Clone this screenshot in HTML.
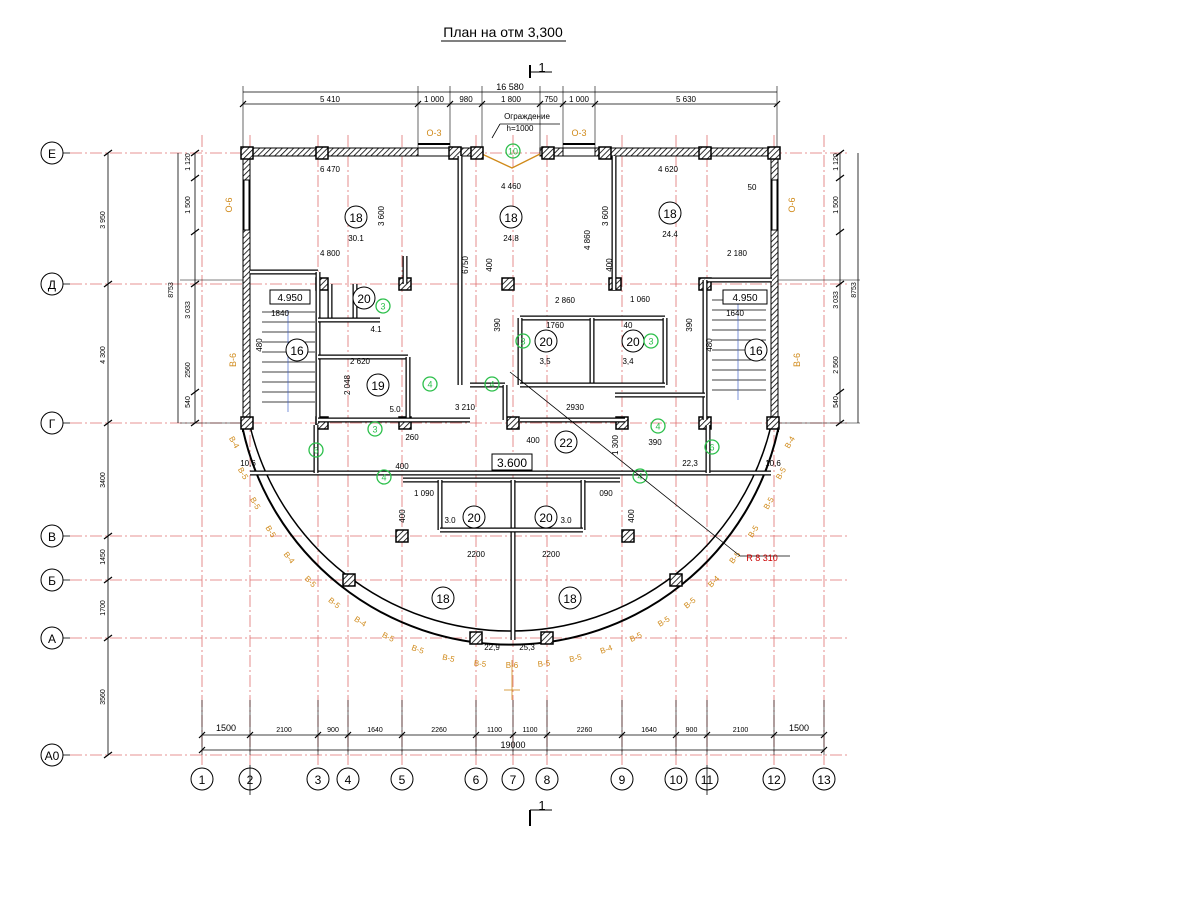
<!DOCTYPE html>
<html><head><meta charset="utf-8"><style>
html,body{margin:0;padding:0;background:#fff;}
svg{display:block;font-family:"Liberation Sans",sans-serif;}
</style></head><body>
<svg id="s" width="1200" height="900" viewBox="0 0 1200 900" xmlns="http://www.w3.org/2000/svg">
<defs>
<pattern id="h" width="4" height="4" patternUnits="userSpaceOnUse" patternTransform="rotate(45)"><rect width="4" height="4" fill="#fff"/><line x1="0" y1="0" x2="0" y2="4" stroke="#000" stroke-width="1.6"/></pattern>
</defs>
<text x="503" y="37" font-size="14" text-anchor="middle">План на отм 3,300</text>
<line x1="441" y1="41" x2="566" y2="41" stroke="#000" stroke-width="1"/>
<g id="g"></g>
</svg>
<script>
const NS="http://www.w3.org/2000/svg",G=document.getElementById('g');
function el(t,a,txt){const e=document.createElementNS(NS,t);for(const k in a)e.setAttribute(k,a[k]);if(txt!==undefined)e.textContent=txt;G.appendChild(e);return e;}
function L(x1,y1,x2,y2,w,c,d){const a={x1,y1,x2,y2,stroke:c||'#000','stroke-width':w||1};if(d)a['stroke-dasharray']=d;return el('line',a);}
function T(x,y,s,fs,c,rot,anch){const a={x,y,'font-size':fs||9,fill:c||'#000','text-anchor':anch||'middle'};if(rot)a.transform=`rotate(${rot} ${x} ${y})`;return el('text',a,s);}
const red='#e07070',dd='12 3 2 3';
const VX=[202,250,318,348,402,476,513,547,622,676,707,774,824];
const HY=[153,284,423,536,580,638,755];const HL=['Е','Д','Г','В','Б','А','А0'];
VX.forEach((x,i)=>{L(x,135,x,765,0.8,red,dd);el('circle',{cx:x,cy:779,r:11,fill:'#fff',stroke:'#000','stroke-width':1});T(x,784,String(i+1),12);});
[250,707].forEach(x=>L(x,765,x,795,0.8,'#000'));
HY.forEach((y,i)=>{L(70,y,850,y,0.8,red,dd);el('circle',{cx:52,cy:y,r:11,fill:'#fff',stroke:'#000'});T(52,y+5,HL[i],12);L(63,y,70,y,0.8);});
L(530,65,530,78,2);L(530,72,552,72,1);T(542,72,'1',13);L(530,810,530,826,2);L(530,810,552,810,1);T(542,810,'1',13);
L(243,92,777,92,0.8);T(510,90,'16 580',9);L(243,104,777,104,0.8);
[243,418,450,482,540,563,595,777].forEach(x=>{L(x,86,x,150,0.6);L(x-3,107,x+3,101,1.2);});
[[330,'5 410'],[434,'1 000'],[466,'980'],[511,'1 800'],[551,'750'],[579,'1 000'],[686,'5 630']].forEach(a=>T(a[0],102,a[1],8));
L(202,735,824,735,0.8);L(202,750,824,750,0.8);
const bx=[202,250,318,348,402,476,513,547,622,676,707,774,824];const bl=['1500','2100','900','1640','2260','1100','1100','2260','1640','900','2100','1500'];
bx.forEach(x=>{L(x,700,x,755,0.6);L(x-3,738,x+3,732,1.2);});
bl.forEach((s,i)=>T((bx[i]+bx[i+1])/2,i==0||i==11?731:732,s,i==0||i==11?9:7));
T(513,748,'19000',9);L(199,753,205,747,1.2);L(821,753,827,747,1.2);
L(108,153,108,755,0.8);L(195,153,195,423,0.8);L(178,153,178,423,0.8);
[[108,220,'3 950'],[108,355,'4 300'],[108,480,'3400'],[108,557,'1450'],[108,608,'1700'],[108,697,'3560']].forEach(a=>T(a[0]-3,a[1],a[2],7,'#000',-90));
[[192,162,'1 120'],[192,205,'1 500'],[192,310,'3 033'],[192,370,'2560'],[192,402,'540'],[175,290,'8753']].forEach(a=>T(a[0]-2,a[1],a[2],7,'#000',-90));
HY.forEach(y=>{L(104,y+3,112,y-3,1.2);});[153,178,232,284,392,423].forEach(y=>L(191,y+3,199,y-3,1.2));
L(840,153,840,423,0.8);L(858,153,858,423,0.8);
[[838,162,'1 120'],[838,205,'1 500'],[838,300,'3 033'],[838,365,'2 560'],[838,402,'540'],[856,290,'8753']].forEach(a=>T(a[0],a[1],a[2],7,'#000',-90));
[153,178,232,284,392,423].forEach(y=>L(836,y+3,844,y-3,1.2));
L(777,280,860,280,0.5);L(777,423,860,423,0.5);L(180,423,243,423,0.5);L(180,280,243,280,0.5);
function W(x,y,w,h){el('rect',{x,y,width:w,height:h,fill:'url(#h)',stroke:'#000','stroke-width':1});}
W(243,148,175,8);W(450,148,32,8);W(540,148,23,8);W(595,148,182,8);
el('rect',{x:418,y:148,width:32,height:8,fill:'#fff',stroke:'#000'});el('rect',{x:563,y:148,width:32,height:8,fill:'#fff',stroke:'#000'});
L(418,144,450,144,2);L(563,144,595,144,2);
W(243,156,7,267);W(771,156,7,267);
el('rect',{x:244,y:180,width:5,height:50,fill:'#fff',stroke:'#000'});el('rect',{x:772,y:180,width:5,height:50,fill:'#fff',stroke:'#000'});
const or='#d08a1a';
T(434,136,'О-3',9,or);T(579,136,'О-3',9,or);T(232,205,'О-6',9,or,-90);T(795,205,'О-6',9,or,-90);T(236,360,'В-6',9,or,-90);T(800,360,'В-6',9,or,-90);
el('polyline',{points:'482,154 512,168 540,154',fill:'none',stroke:or,'stroke-width':1.3});
T(527,119,'Ограждение',8);T(520,131,'h=1000',8);L(492,138,500,124,0.8);L(500,124,560,124,0.8);
const cx=512,cy=378;
el('path',{d:`M 243 430 A 274 274 0 0 0 778 430`,fill:'none',stroke:'#000','stroke-width':2});
el('path',{d:`M 250 426 A 268 268 0 0 0 771 426`,fill:'none',stroke:'#000','stroke-width':1.5});
L(243,423,243,432,2);L(778,423,778,432,2);
const labs=['В-4','В-5','В-5','В-5','В-4','В-5','В-5','В-4','В-5','В-5','В-5','В-5','В-6','В-5','В-5','В-4','В-5','В-5','В-5','В-4','В-5','В-5','В-5','В-5','В-4'];
labs.forEach((s,i)=>{const a=Math.PI*(0.93-i*0.86/(labs.length-1));const r=287;const x=cx+r*Math.cos(a),y=cy+r*Math.sin(a);let rot=(a*180/Math.PI)-90;if(rot>60)rot=60;if(rot<-60)rot=-60;T(x,y+3,s,8,or,rot);});
function C(x,y){el('rect',{x:x-6,y:y-6,width:12,height:12,fill:'url(#h)',stroke:'#000','stroke-width':1.5});}
[[247,153],[322,153],[455,153],[477,153],[548,153],[605,153],[705,153],[774,153],[322,284],[405,284],[508,284],[615,284],[705,284],[247,423],[322,423],[405,423],[513,423],[622,423],[705,423],[773,423],[402,536],[628,536],[349,580],[676,580],[476,638],[547,638]].forEach(p=>C(p[0],p[1]));
function D(x1,y1,x2,y2){el('line',{x1,y1,x2,y2,stroke:'#000','stroke-width':5});el('line',{x1,y1,x2,y2,stroke:'#fff','stroke-width':2.5});}
D(460,156,460,385);D(614,156,614,290);D(405,256,405,284);
D(250,272,318,272);D(318,272,318,420);D(705,280,772,280);D(705,280,705,420);
D(318,357,408,357);D(408,357,408,420);D(318,420,470,420);
D(470,385,505,385);D(505,385,505,420);D(520,420,625,420);D(615,395,705,395);
D(520,318,665,318);D(520,318,520,385);D(665,318,665,385);D(592,318,592,385);D(520,385,665,385);
D(250,473,400,473);D(400,473,620,473);D(620,473,771,473);D(316,425,316,473);D(708,425,708,473);
D(403,480,620,480);D(440,480,440,530);D(513,480,513,640);D(583,480,583,530);D(440,530,583,530);
D(330,284,330,320);D(355,284,355,320);D(318,320,380,320);
for(let i=0;i<10;i++){L(262,312+i*10,315,312+i*10,0.7);L(712,300+i*10,766,300+i*10,0.7);}
L(288,310,288,412,0.7,'#4466cc');L(738,300,738,400,0.7,'#4466cc');
el('rect',{x:270,y:290,width:40,height:14,fill:'#fff',stroke:'#000'});T(290,301,'4.950',10);
el('rect',{x:723,y:290,width:44,height:14,fill:'#fff',stroke:'#000'});T(745,301,'4.950',10);
el('rect',{x:492,y:454,width:40,height:16,fill:'#fff',stroke:'#000'});T(512,467,'3.600',12);
function R(x,y,n,a){el('circle',{cx:x,cy:y,r:11,fill:'#fff',stroke:'#000','stroke-width':1});T(x,y+5,n,12);if(a)T(x,y+24,a,8);}
R(356,217,'18','30.1');R(511,217,'18','24.8');R(670,213,'18','24.4');R(297,350,'16');R(756,350,'16');R(378,385,'19');R(364,298,'20');R(546,341,'20');R(633,341,'20');R(566,442,'22');R(474,517,'20');R(546,517,'20');R(443,598,'18');R(570,598,'18');
T(248,466,'10,6',8);T(773,466,'10,6',8);T(690,466,'22,3',8);T(492,650,'22,9',8);T(527,650,'25,3',8);
function Gm(x,y,n){el('circle',{cx:x,cy:y,r:7,fill:'none',stroke:'#2bbf4a','stroke-width':1.3});T(x,y+3.5,n,9,'#2bbf4a');}
[[383,306,'3'],[523,341,'3'],[651,341,'3'],[430,384,'4'],[492,384,'4'],[375,429,'3'],[316,450,'6'],[384,477,'4'],[658,426,'4'],[712,447,'6'],[640,476,'4'],[513,151,'10']].forEach(a=>Gm(a[0],a[1],a[2]));
[[330,172,'6 470'],[511,189,'4 460'],[668,172,'4 620'],[330,256,'4 800'],[737,256,'2 180'],[565,303,'2 860'],[640,302,'1 060'],[555,328,'1760'],[628,328,'40'],[360,364,'2 620'],[465,410,'3 210'],[575,410,'2930'],[533,443,'400'],[412,440,'260'],[402,469,'400'],[424,496,'1 090'],[606,496,'090'],[476,557,'2200'],[551,557,'2200'],[655,445,'390'],[752,190,'50'],[395,412,'5.0'],[376,332,'4.1'],[545,364,'3,5'],[628,364,'3,4'],[450,523,'3.0'],[566,523,'3.0'],[280,316,'1840'],[735,316,'1640']].forEach(a=>T(a[0],a[1],a[2],8));
[[384,216,'3 600'],[608,216,'3 600'],[468,265,'6750'],[590,240,'4 860'],[492,265,'400'],[612,265,'400'],[500,325,'390'],[692,325,'390'],[262,345,'480'],[712,345,'480'],[350,385,'2 048'],[618,445,'1 300'],[405,516,'400'],[634,516,'400']].forEach(a=>T(a[0],a[1],a[2],8,'#000',-90));
L(510,372,740,556,0.8);L(740,556,790,556,0.8);T(762,561,'R 8 310',9,'#c00');
L(512,660,512,700,0.8,or);L(504,690,520,690,0.8,or);
</script>
</body></html>
